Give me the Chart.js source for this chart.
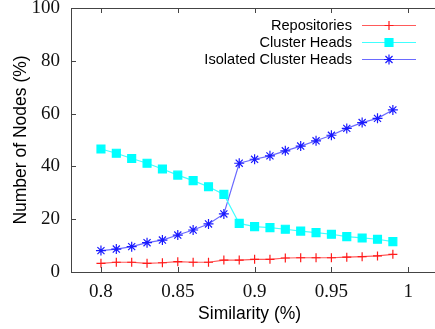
<!DOCTYPE html>
<html>
<head>
<meta charset="utf-8">
<script src="https://cdn.jsdelivr.net/npm/chart.js@4/dist/chart.umd.min.js"></script>
<style>
  html, body { margin: 0; padding: 0; background: #fff; overflow: hidden; }
</style>
</head>
<body>
<canvas id="simChart" width="435" height="329"></canvas>
<script>
// similarity thresholds (x) and node percentages per series
const similarity = [0.80, 0.81, 0.82, 0.83, 0.84, 0.85, 0.86, 0.87, 0.88, 0.89,
                    0.90, 0.91, 0.92, 0.93, 0.94, 0.95, 0.96, 0.97, 0.98, 0.99];
const repositories = [3.3, 3.7, 3.7, 3.3, 3.5, 3.9, 3.7, 3.7, 4.5, 4.5,
                      4.8, 4.8, 5.3, 5.4, 5.4, 5.4, 5.6, 5.8, 6.1, 6.7];
const clusterHeads = [46.6, 45.0, 43.0, 41.2, 39.0, 36.7, 34.6, 32.3, 29.4, 18.4,
                      17.2, 16.8, 16.2, 15.5, 14.9, 14.3, 13.4, 12.9, 12.4, 11.5];
const isolatedHeads = [8.1, 8.7, 9.6, 11.1, 12.1, 14.0, 15.9, 18.2, 22.0, 41.2,
                       42.7, 44.0, 45.9, 47.7, 49.7, 51.8, 54.4, 56.6, 58.2, 61.4];
const xTicks = [0.8, 0.85, 0.9, 0.95, 1];
const yTicks = [0, 20, 40, 60, 80, 100];

const pts = ys => similarity.map((x, i) => ({ x: x, y: ys[i] }));

const series = [
  { label: 'Repositories', data: repositories, line: '#ff5a5a', point: '#ff1a1a', style: 'cross', radius: 4.5 },
  { label: 'Cluster Heads', data: clusterHeads, line: '#40ffff', point: '#00ffff', style: 'rect', radius: 5.6 },
  { label: 'Isolated Cluster Heads', data: isolatedHeads, line: '#6a6aff', point: '#1a1aff', style: 'star', radius: 5 }
];

// gnuplot-like frame: top/bottom border running off the right edge, inward tick marks
const framePlugin = {
  id: 'frame',
  afterDraw(chart) {
    const { ctx, chartArea: a, scales: { x, y } } = chart;
    ctx.save();
    ctx.strokeStyle = '#444';
    ctx.lineWidth = 1;
    ctx.beginPath();
    ctx.moveTo(a.left, a.top + 0.5);
    ctx.lineTo(chart.width, a.top + 0.5);
    ctx.moveTo(a.right - 1, Math.round(a.bottom) + 0.5);
    ctx.lineTo(chart.width, Math.round(a.bottom) + 0.5);
    xTicks.forEach(v => {
      const px = Math.round(x.getPixelForValue(v)) + 0.5;
      ctx.moveTo(px, a.bottom); ctx.lineTo(px, a.bottom - 5);
      ctx.moveTo(px, a.top); ctx.lineTo(px, a.top + 5);
    });
    yTicks.forEach(v => {
      const py = Math.round(y.getPixelForValue(v)) + 0.5;
      ctx.moveTo(a.left, py); ctx.lineTo(a.left + 5, py);
    });
    ctx.stroke();
    ctx.restore();
  }
};

// legend: right aligned text, sample line + marker on the right
const legendPlugin = {
  id: 'sideLegend',
  afterDraw(chart) {
    const ctx = chart.ctx;
    ctx.save();
    ctx.font = '14.6px "Liberation Sans", Arial, sans-serif';
    ctx.textAlign = 'right';
    ctx.textBaseline = 'middle';
    series.forEach((s, i) => {
      const yy = 26 + i * 17;
      ctx.fillStyle = '#000';
      ctx.fillText(s.label, 352, yy);
      ctx.strokeStyle = s.line;
      ctx.lineWidth = 1.2;
      ctx.beginPath();
      ctx.moveTo(362, yy - 0.5);
      ctx.lineTo(416, yy - 0.5);
      ctx.stroke();
      ctx.fillStyle = s.point;
      ctx.strokeStyle = s.point;
      Chart.helpers.drawPoint(ctx, { pointStyle: s.style, radius: s.radius, rotation: 0, borderWidth: 1.2 }, 389, yy - 0.5);
    });
    ctx.restore();
  }
};

new Chart(document.getElementById('simChart').getContext('2d'), {
  type: 'line',
  data: {
    datasets: series.map(s => ({
      label: s.label,
      data: pts(s.data),
      borderColor: s.line,
      borderWidth: 1.2,
      backgroundColor: s.point,
      pointStyle: s.style,
      pointRadius: s.radius,
      pointBorderColor: s.point,
      pointBackgroundColor: s.point,
      pointBorderWidth: 1.2,
      tension: 0,
      fill: false
    }))
  },
  options: {
    responsive: false,
    animation: false,
    layout: { padding: { top: 8, right: 0, left: 0, bottom: 0 } },
    plugins: { legend: { display: false }, tooltip: { enabled: false } },
    scales: {
      x: {
        type: 'linear',
        min: 0.7805,
        max: 1.013,
        afterBuildTicks: s => { s.ticks = xTicks.map(v => ({ value: v })); },
        afterFit: s => { s.height = 57; s.paddingLeft = 0; s.paddingRight = 0; },
        grid: { drawOnChartArea: false, drawTicks: false },
        border: { color: '#444', width: 1 },
        ticks: {
          padding: 9,
          color: '#111',
          font: { family: '"Liberation Serif", "Times New Roman", serif', size: 19 },
          callback: v => String(+(+v).toFixed(2))
        },
        title: {
          display: true,
          text: 'Similarity (%)',
          color: '#000',
          font: { family: '"Liberation Sans", Arial, sans-serif', size: 17.5 },
          padding: { top: 0, bottom: 4.5 }
        }
      },
      y: {
        min: 0,
        max: 100,
        afterBuildTicks: s => { s.ticks = yTicks.map(v => ({ value: v })); },
        afterFit: s => { s.width = 71; s.paddingTop = 0; s.paddingBottom = 0; },
        grid: { drawOnChartArea: false, drawTicks: false },
        border: { color: '#444', width: 1 },
        ticks: {
          padding: 11,
          color: '#111',
          font: { family: '"Liberation Serif", "Times New Roman", serif', size: 19 }
        },
        title: {
          display: true,
          text: 'Number of Nodes (%)',
          color: '#000',
          font: { family: '"Liberation Sans", Arial, sans-serif', size: 17.5 },
          padding: { top: 10.5, bottom: 0 }
        }
      }
    }
  },
  plugins: [framePlugin, legendPlugin]
});
</script>
</body>
</html>
